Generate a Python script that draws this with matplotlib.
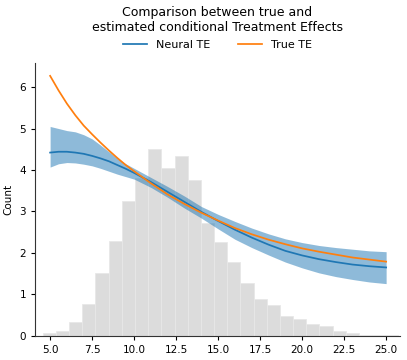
import numpy as np
import matplotlib
matplotlib.use("Agg")
import matplotlib.pyplot as plt

# histogram (background distribution)
bin_edges = np.linspace(4.565, 25.73, 28)
counts = [0.07, 0.11, 0.34, 0.78, 1.51, 2.29, 3.25, 3.80, 4.50, 4.04, 4.34, 3.76,
          2.73, 2.27, 1.79, 1.27, 0.90, 0.74, 0.48, 0.40, 0.28, 0.23, 0.12, 0.08,
          0.03, 0.03, 0.03]

# treatment effect curves
x_te = [5, 5.5, 6, 6.5, 7, 7.5, 8, 8.5, 9, 9.5, 10, 11, 12, 13, 14, 15, 16, 17,
        18, 19, 20, 21, 22, 23, 24, 25]
neural_te = [4.42, 4.44, 4.44, 4.42, 4.39, 4.34, 4.28, 4.21, 4.12, 4.03, 3.93,
             3.71, 3.47, 3.23, 2.99, 2.77, 2.56, 2.37, 2.20, 2.05, 1.94, 1.85,
             1.78, 1.72, 1.68, 1.65]
neural_upper = [5.05, 5.00, 4.95, 4.92, 4.85, 4.75, 4.60, 4.44, 4.28, 4.15, 4.04,
                3.82, 3.60, 3.37, 3.12, 2.93, 2.76, 2.60, 2.46, 2.34, 2.25, 2.18,
                2.13, 2.09, 2.05, 2.03]
neural_lower = [4.07, 4.15, 4.18, 4.17, 4.14, 4.10, 4.04, 3.97, 3.90, 3.84, 3.78,
                3.58, 3.34, 3.08, 2.84, 2.58, 2.33, 2.13, 1.95, 1.78, 1.64, 1.52,
                1.43, 1.36, 1.30, 1.26]
true_te = [6.27, 5.92, 5.60, 5.32, 5.07, 4.86, 4.66, 4.47, 4.29, 4.12, 3.97, 3.68,
           3.41, 3.18, 2.97, 2.78, 2.60, 2.45, 2.32, 2.21, 2.11, 2.03, 1.96, 1.89,
           1.84, 1.79]

fig = plt.figure(figsize=(4.07, 3.6), dpi=100)
ax = fig.add_axes([0.086, 0.067, 0.897, 0.758])

ax.hist(bin_edges[:-1], bins=bin_edges, weights=counts, color="#dcdcdc",
        edgecolor="#e8e8e8", linewidth=0.6)
ax.fill_between(x_te, neural_lower, neural_upper, color="#1f77b4", alpha=0.5,
                linewidth=0)
ax.plot(x_te, neural_te, color="#1f77b4", lw=1.25, label="Neural TE")
ax.plot(x_te, true_te, color="#ff7f0e", lw=1.25, label="True TE")

ax.set_xlim(4.1, 25.83)
ax.set_ylim(0, 6.58)
ax.set_xticks([5, 7.5, 10, 12.5, 15, 17.5, 20, 22.5, 25])
ax.set_ylabel("Count", fontsize=7.5)
ax.tick_params(labelsize=7.5, length=3, width=0.8)
for s in ["top", "right"]:
    ax.spines[s].set_visible(False)
for s in ["left", "bottom"]:
    ax.spines[s].set_color("#333333")

ax.set_title("Comparison between true and\nestimated conditional Treatment Effects",
             fontsize=9, pad=23)
ax.legend(loc="lower center", bbox_to_anchor=(0.5, 1.012), ncol=2, frameon=False,
          fontsize=8, handlelength=2.2, columnspacing=2.5)

fig.savefig("out.png", dpi=100)
